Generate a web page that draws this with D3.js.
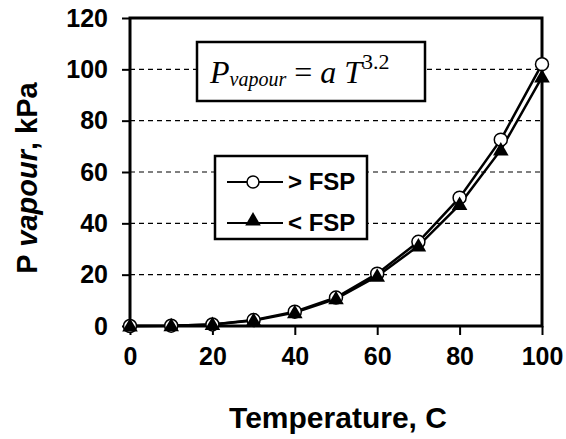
<!DOCTYPE html>
<html>
<head>
<meta charset="utf-8">
<script src="https://cdn.jsdelivr.net/npm/d3@7"></script>
<style>
  body { margin: 0; background: #fff; }
  svg { display: block; }
  text { font-family: "Liberation Sans", Arial, sans-serif; font-weight: bold; fill: #000; }
</style>
</head>
<body>
<div id="chart"></div>
<script>
// temperature, C
const temps = [0, 10, 20, 30, 40, 50, 60, 70, 80, 90, 100];
// vapour pressure, kPa
const aboveFsp = [0, 0.1, 0.6, 2.3, 5.6, 11.1, 20.4, 32.8, 50, 72.6, 102];
const belowFsp = [0, 0.1, 0.6, 2.1, 5.2, 10.6, 19.4, 31.2, 47.3, 68.6, 97];
const xTicks = [0, 20, 40, 60, 80, 100];
const yTicks = [0, 20, 40, 60, 80, 100, 120];
const seriesNames = ["> FSP", "< FSP"];

let width = 566;
let height = 439;
let margin = { top: 18, right: 24, bottom: 113, left: 130 };

let svg = d3.select("#chart").append("svg")
  .attr("width", width)
  .attr("height", height);

let x = d3.scaleLinear()
  .domain([0, 100])
  .range([margin.left, width - margin.right]);

let y = d3.scaleLinear()
  .domain([0, 120])
  .range([height - margin.bottom, margin.top]);

// dashed gridlines
svg.append("g")
  .selectAll("line")
  .data(yTicks.filter(function (d) { return d > 0 && d < 120; }))
  .enter()
  .append("line")
  .attr("x1", x(0))
  .attr("x2", x(100))
  .attr("y1", function (d) { return y(d); })
  .attr("y2", function (d) { return y(d); })
  .attr("stroke", "#000")
  .attr("stroke-width", 1.2)
  .attr("stroke-dasharray", "5,4");

// axes
let yAxis = d3.axisLeft(y)
  .tickValues(yTicks)
  .tickSize(8)
  .tickPadding(14);

let xAxis = d3.axisBottom(x)
  .tickValues(xTicks)
  .tickSize(9)
  .tickPadding(12);

let gy = svg.append("g")
  .attr("transform", `translate(${x(0)}, 0)`)
  .call(yAxis);

let gx = svg.append("g")
  .attr("transform", `translate(0, ${y(0)})`)
  .call(xAxis);

[gx, gy].forEach(function (g) {
  g.select(".domain").remove();
  g.selectAll(".tick line").attr("stroke", "#000").attr("stroke-width", 2);
  g.selectAll(".tick text")
    .attr("font-family", "Liberation Sans, Arial, sans-serif")
    .attr("font-weight", "bold")
    .attr("font-size", 25)
    .attr("fill", "#000");
});

// plot frame
svg.append("rect")
  .attr("x", x(0))
  .attr("y", y(120))
  .attr("width", x(100) - x(0))
  .attr("height", y(0) - y(120))
  .attr("fill", "none")
  .attr("stroke", "#000")
  .attr("stroke-width", 3);

// axis titles
svg.append("text")
  .attr("x", (x(0) + x(100)) / 2 + 2)
  .attr("y", 428)
  .attr("text-anchor", "middle")
  .attr("font-size", 30)
  .text("Temperature, C");

let yTitle = svg.append("text")
  .attr("transform", `translate(37, ${(y(0) + y(120)) / 2 + 6}) rotate(-90)`)
  .attr("text-anchor", "middle")
  .attr("font-size", 29);
yTitle.append("tspan").text("P ");
yTitle.append("tspan").attr("font-style", "italic").text("vapour");
yTitle.append("tspan").text(", kPa");

// series
let line = d3.line()
  .x(function (d) { return x(d[0]); })
  .y(function (d) { return y(d[1]); });

let below = temps.map(function (t, i) { return [t, belowFsp[i]]; });
let above = temps.map(function (t, i) { return [t, aboveFsp[i]]; });

svg.append("path")
  .datum(below)
  .attr("d", line)
  .attr("fill", "none")
  .attr("stroke", "#000")
  .attr("stroke-width", 2.5);

svg.append("path")
  .datum(above)
  .attr("d", line)
  .attr("fill", "none")
  .attr("stroke", "#000")
  .attr("stroke-width", 2.5);

let tri = d3.symbol().type(d3.symbolTriangle).size(105);

svg.append("g")
  .selectAll("circle")
  .data(above)
  .enter()
  .append("circle")
  .attr("cx", function (d) { return x(d[0]); })
  .attr("cy", function (d) { return y(d[1]); })
  .attr("r", 6.5)
  .attr("fill", "#fff")
  .attr("stroke", "#000")
  .attr("stroke-width", 1.5);

svg.append("g")
  .selectAll("path")
  .data(below)
  .enter()
  .append("path")
  .attr("d", tri)
  .attr("transform", function (d) { return `translate(${x(d[0])}, ${y(d[1]) + 1})`; })
  .attr("fill", "#000");

// equation box
svg.append("rect")
  .attr("x", 197)
  .attr("y", 42)
  .attr("width", 228)
  .attr("height", 59)
  .attr("fill", "#fff")
  .attr("stroke", "#000")
  .attr("stroke-width", 2.5);

let eq = svg.append("text")
  .attr("x", 210)
  .attr("y", 83)
  .style("font-family", "Liberation Serif, Times New Roman, serif")
  .style("font-weight", "normal")
  .style("font-style", "italic")
  .attr("font-size", 32);
eq.append("tspan").text("P");
eq.append("tspan").attr("font-size", 20).attr("dy", 3).text("vapour");
eq.append("tspan").attr("dy", -3).attr("font-style", "normal").text(" = ");
eq.append("tspan").text("a  T");
eq.append("tspan").attr("font-size", 22).attr("font-style", "normal").attr("dy", -14).text("3.2");

// legend
svg.append("rect")
  .attr("x", 215)
  .attr("y", 156)
  .attr("width", 152)
  .attr("height", 83)
  .attr("fill", "#fff")
  .attr("stroke", "#000")
  .attr("stroke-width", 2.5);

let legend = svg.append("g")
  .selectAll("g")
  .data(seriesNames)
  .enter()
  .append("g")
  .attr("transform", function (d, i) { return `translate(227, ${182 + i * 41})`; });

legend.append("line")
  .attr("x1", 0)
  .attr("x2", 56)
  .attr("stroke", "#000")
  .attr("stroke-width", 2);

legend.filter(function (d, i) { return i === 0; })
  .append("circle")
  .attr("cx", 26)
  .attr("r", 6)
  .attr("fill", "#fff")
  .attr("stroke", "#000")
  .attr("stroke-width", 1.5);

legend.filter(function (d, i) { return i === 1; })
  .append("path")
  .attr("d", tri)
  .attr("transform", "translate(26, -2)")
  .attr("fill", "#000");

legend.append("text")
  .attr("x", 61)
  .attr("y", 8)
  .attr("font-size", 24)
  .text(function (d) { return d; });
</script>
</body>
</html>
